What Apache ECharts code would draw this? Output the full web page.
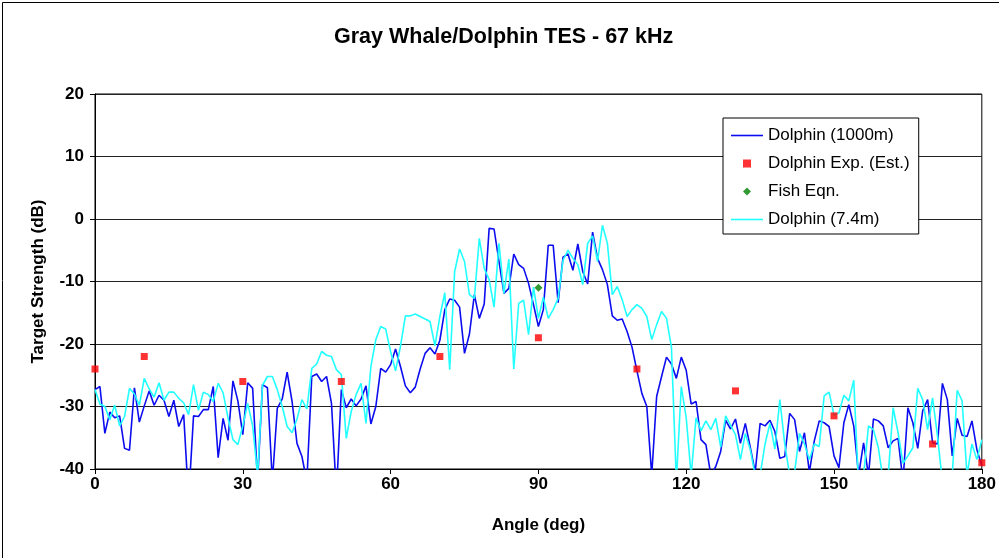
<!DOCTYPE html>
<html>
<head>
<meta charset="utf-8">
<script src="https://cdn.jsdelivr.net/npm/echarts@6/dist/echarts.min.js"></script>
<style>
  html, body { margin: 0; padding: 0; background: #fff; }
  #chart { width: 999px; height: 558px; }
</style>
</head>
<body>
<div id="chart"></div>
<script>
// Angle samples, one per degree (0..180)
const angles = Array.from({ length: 181 }, (_, i) => i);

// Target strength, dolphin at 1000 m range (dB)
const dolphin1000 = [
  -27.3, -26.8, -34.3, -30.9, -31.8, -31.5, -36.7, -37.0, -27.0, -32.5,
  -29.9, -27.5, -29.8, -28.2, -29.0, -31.6, -29.0, -33.2, -31.3, -45.0,
  -31.5, -31.6, -30.5, -30.5, -26.8, -38.2, -31.9, -35.4, -25.9, -29.1,
  -34.5, -26.2, -27.1, -42.0, -26.5, -27.0, -42.0, -30.3, -28.8, -24.5,
  -29.2, -35.9, -38.0, -42.0, -25.2, -24.8, -26.0, -25.2, -29.5, -44.0,
  -27.3, -30.2, -28.8, -29.9, -28.8, -26.7, -32.8, -30.0, -23.9, -24.5,
  -23.3, -20.8, -23.6, -26.7, -27.8, -26.9, -24.0, -21.5, -20.6, -21.6,
  -19.4, -14.5, -12.8, -13.0, -14.1, -21.5, -18.4, -12.1, -15.9, -13.6,
  -1.5, -1.6, -6.8, -11.9, -11.1, -5.6, -7.3, -7.9, -10.3, -13.7,
  -17.2, -14.5, -4.2, -4.2, -13.4, -6.1, -5.6, -8.2, -4.0, -8.4,
  -10.4, -2.1, -6.3, -8.1, -10.5, -15.5, -16.2, -16.0, -18.0, -20.5,
  -24.3, -27.9, -30.0, -41.0, -28.4, -25.2, -22.1, -23.2, -25.5, -22.1,
  -24.2, -29.6, -29.2, -35.3, -36.1, -41.0, -39.6, -37.2, -32.2, -33.6,
  -32.0, -35.9, -32.7, -36.5, -40.5, -32.7, -33.1, -32.2, -34.0, -38.3,
  -38.0, -31.1, -32.1, -37.2, -34.2, -40.5, -35.5, -32.3, -32.6, -33.2,
  -37.9, -39.8, -32.6, -29.7, -33.1, -41.0, -35.8, -41.0, -32.0, -32.3,
  -33.1, -36.6, -35.5, -35.1, -42.0, -30.2, -32.6, -36.7, -30.7, -28.9,
  -35.8, -36.0, -26.3, -28.9, -37.9, -31.9, -34.6, -34.8, -32.3, -36.9,
  -39.5
];

// Target strength, dolphin at 7.4 m range (dB)
const dolphin74 = [
  -27.3, -29.6, -30.0, -32.1, -29.8, -33.1, -31.6, -27.1, -28.0, -29.8,
  -25.5, -27.2, -28.5, -26.2, -29.0, -27.7, -27.7, -28.7, -29.4, -31.3,
  -26.5, -30.6, -27.7, -28.1, -29.2, -26.3, -27.8, -31.8, -35.3, -36.1,
  -33.1, -29.5, -33.1, -41.0, -26.6, -25.2, -25.2, -27.3, -30.0, -33.2,
  -34.2, -32.0, -28.9, -30.4, -23.9, -23.2, -21.2, -21.8, -22.0, -24.1,
  -24.9, -35.1, -30.8, -28.1, -26.3, -32.7, -23.6, -19.3, -17.2, -17.6,
  -21.2, -24.3, -20.4, -15.5, -15.5, -15.2, -15.6, -16.0, -16.4, -20.3,
  -15.6, -11.8, -24.1, -8.4, -4.8, -6.8, -12.1, -12.7, -3.1, -7.9,
  -9.7, -14.1, -3.9, -11.9, -6.4, -24.0, -13.5, -13.0, -18.5, -10.9,
  -15.9, -12.5, -15.9, -14.5, -12.7, -6.6, -5.0, -6.3, -7.3, -10.5,
  -3.9, -2.7, -6.8, -1.0, -3.9, -12.1, -10.8, -12.9, -15.6, -14.5,
  -13.7, -14.3, -15.6, -19.3, -16.9, -14.8, -15.9, -20.5, -42.0, -26.8,
  -31.8, -41.0, -31.8, -33.9, -32.3, -33.7, -31.9, -36.5, -31.5, -33.0,
  -34.5, -38.5, -34.3, -36.9, -41.0, -41.0, -36.0, -32.7, -36.8, -28.9,
  -36.0, -41.0, -40.5, -34.3, -36.0, -38.5, -36.0, -36.4, -28.3, -27.7,
  -31.4, -31.0, -28.2, -29.1, -25.8, -43.0, -41.0, -33.1, -33.7, -36.6,
  -42.0, -41.0, -30.2, -34.2, -39.1, -37.9, -36.6, -27.1, -28.9, -33.7,
  -28.6, -34.7, -42.0, -43.0, -41.0, -27.4, -29.1, -41.0, -36.0, -38.5,
  -35.3
];

// Experimental estimates
const expAngles = [0, 10, 30, 50, 70, 90, 110, 130, 150, 170, 180];
const expValues = [-24, -22, -26, -26, -22, -19, -24, -27.5, -31.5, -36, -39];

// Fish equation estimate
const fishAngles = [90];
const fishValues = [-11];

// Axis ticks
const xTicks = [0, 30, 60, 90, 120, 150, 180];
const yTicks = [-40, -30, -20, -10, 0, 10, 20];

const pairs = (xs, ys) => xs.map((x, i) => [x, ys[i]]);

const FONT = '"Liberation Sans", Arial, sans-serif';

// Legend glyphs: a thin bar for the lines, a small square and diamond for the points
const ICON_LINE = 'path://M0,0H32V1.6H0Z';
const ICON_SQUARE = 'path://M0,0H1V1H0Z';
const ICON_DIAMOND = 'path://M1,0L2,1L1,2L0,1Z';

const chart = echarts.init(document.getElementById('chart'), null, { renderer: 'canvas' });

chart.setOption({
  animation: false,
  backgroundColor: '#ffffff',
  title: {
    text: 'Gray Whale/Dolphin TES - 67 kHz',
    left: 329,
    top: 21,
    textStyle: { fontFamily: FONT, fontSize: 21.5, fontWeight: 'bold', color: '#000' }
  },
  grid: {
    left: 95, right: 15, top: 94, bottom: 89,
    show: true, borderColor: '#000', borderWidth: 1, backgroundColor: '#fff'
  },
  legend: {
    orient: 'vertical',
    left: 723, top: 118,
    padding: [9, 9, 6, 8],
    itemWidth: 32, itemHeight: 8, itemGap: 11,
    symbolKeepAspect: true,
    backgroundColor: '#fff',
    borderColor: '#000', borderWidth: 1, borderRadius: 0,
    textStyle: { fontFamily: FONT, fontSize: 17, color: '#000' },
    data: [
      { name: 'Dolphin (1000m)', icon: ICON_LINE },
      { name: 'Dolphin Exp. (Est.)', icon: ICON_SQUARE, itemStyle: { color: '#ff0000' } },
      { name: 'Fish Eqn.', icon: ICON_DIAMOND, itemStyle: { color: '#008000' } },
      { name: 'Dolphin (7.4m)', icon: ICON_LINE }
    ]
  },
  xAxis: {
    type: 'value',
    min: xTicks[0], max: xTicks[xTicks.length - 1], interval: 30,
    name: 'Angle (deg)', nameLocation: 'middle', nameGap: 48,
    nameTextStyle: { fontFamily: FONT, fontSize: 17, fontWeight: 'bold', color: '#000' },
    axisLine: { onZero: false, lineStyle: { color: '#000', width: 1 } },
    axisTick: { show: true, inside: false, length: 5, lineStyle: { color: '#000' } },
    axisLabel: { margin: 7, fontFamily: FONT, fontSize: 17, fontWeight: 'bold', color: '#000' },
    splitLine: { show: false }
  },
  yAxis: {
    type: 'value',
    min: yTicks[0], max: yTicks[yTicks.length - 1], interval: 10,
    name: 'Target Strength (dB)', nameLocation: 'middle', nameGap: 48,
    nameTextStyle: { fontFamily: FONT, fontSize: 17, fontWeight: 'bold', color: '#000' },
    axisLine: { onZero: false, lineStyle: { color: '#000', width: 1 } },
    axisTick: { show: true, inside: false, length: 5, lineStyle: { color: '#000' } },
    axisLabel: { margin: 11, fontFamily: FONT, fontSize: 17, fontWeight: 'bold', color: '#000' },
    splitLine: { show: true, lineStyle: { color: '#222', width: 1.2 } }
  },
  series: [
    {
      name: 'Dolphin (1000m)',
      type: 'line',
      data: pairs(angles, dolphin1000),
      showSymbol: false, symbol: 'none',
      clip: true,
      color: '#0c0cf0',
      lineStyle: { color: '#0c0cf0', width: 1.6 },
      z: 2
    },
    {
      name: 'Dolphin Exp. (Est.)',
      type: 'scatter',
      data: pairs(expAngles, expValues),
      symbol: 'rect', symbolSize: 7,
      color: '#ff0000',
      itemStyle: { color: '#ff0000' },
      z: 5
    },
    {
      name: 'Fish Eqn.',
      type: 'scatter',
      data: pairs(fishAngles, fishValues),
      symbol: 'diamond', symbolSize: 8,
      color: '#008000',
      itemStyle: { color: '#008000' },
      z: 5
    },
    {
      name: 'Dolphin (7.4m)',
      type: 'line',
      data: pairs(angles, dolphin74),
      showSymbol: false, symbol: 'none',
      clip: true,
      color: '#22ffff',
      lineStyle: { color: '#22ffff', width: 1.6 },
      z: 3
    }
  ],
  graphic: [
    {
      type: 'rect',
      left: 0, top: 0,
      shape: { x: 0.5, y: 0.5, width: 997, height: 556 },
      style: { fill: null, stroke: '#000', lineWidth: 1 },
      silent: true, z: 100
    }
  ]
});
</script>
</body>
</html>
